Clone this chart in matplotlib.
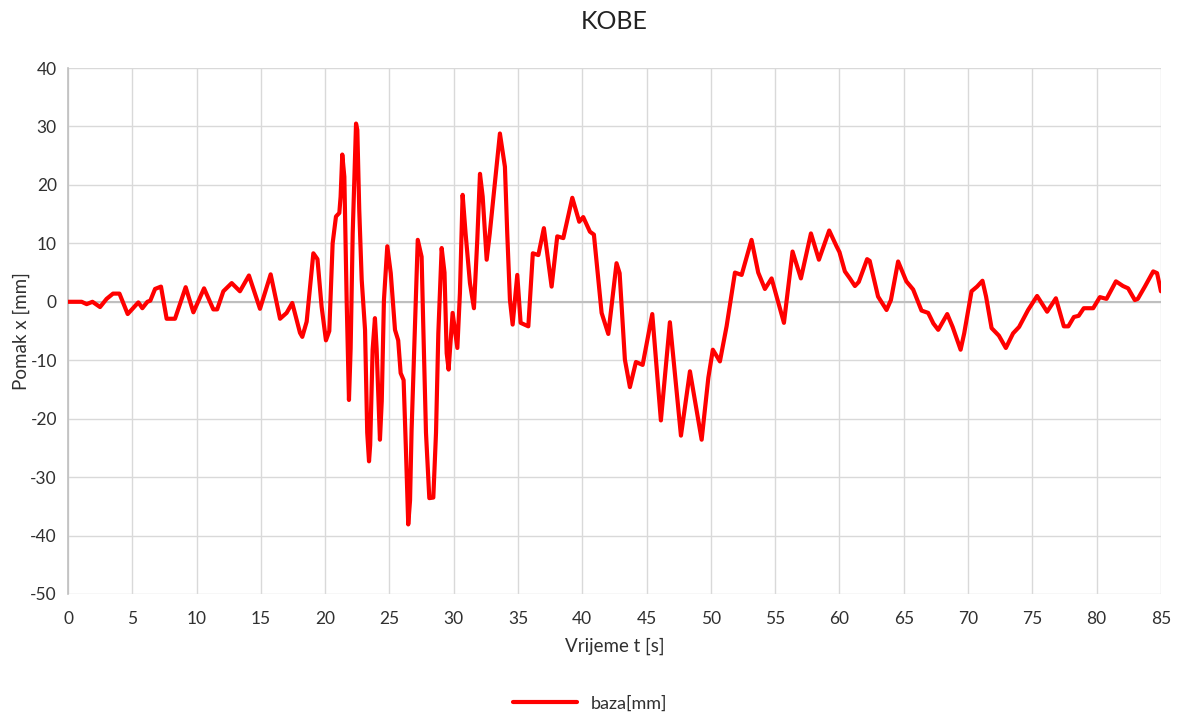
import matplotlib.pyplot as plt

# values
t = [0, 1.06, 1.45, 1.9, 2.49, 3.0, 3.5, 4.0, 4.64, 5.47, 5.78, 6.17, 6.4, 6.77, 7.23, 7.67,
     8.32, 9.15, 9.75, 10.58, 11.3, 11.6, 12.08, 12.73, 13.37, 14.07, 14.93, 15.76, 16.49,
     17.0, 17.44, 18.04, 18.22, 18.56, 19.08, 19.4, 19.72, 20.06, 20.32, 20.58, 20.84, 21.1,
     21.2, 21.33, 21.49, 21.67, 21.85, 21.98, 22.14, 22.4, 22.5, 22.65, 22.84, 23.1, 23.27,
     23.41, 23.5, 23.69, 23.87, 24.0, 24.26, 24.4, 24.57, 24.83, 25.1, 25.43, 25.68, 25.87,
     26.1, 26.28, 26.46, 26.6, 26.72, 26.98, 27.2, 27.5, 27.63, 27.84, 28.1, 28.41, 28.62,
     28.8, 29.06, 29.28, 29.45, 29.6, 29.91, 30.1, 30.28, 30.48, 30.69, 30.92, 31.26, 31.57,
     31.83, 32.04, 32.25, 32.56, 32.8, 33.2, 33.59, 33.98, 34.16, 34.37, 34.58, 34.94, 35.2,
     35.8, 36.15, 36.58, 37.01, 37.61, 38.05, 38.52, 39.22, 39.76, 40.07, 40.59, 40.9, 41.5,
     42.02, 42.66, 42.9, 43.31, 43.7, 44.17, 44.69, 45.44, 46.11, 46.81, 47.67, 48.37, 49.28,
     49.8, 50.15, 50.7, 51.22, 51.87, 52.39, 53.16, 53.68, 54.2, 54.72, 55.1, 55.68, 56.35,
     57.0, 57.78, 58.4, 59.2, 59.77, 60.0, 60.42, 60.81, 61.2, 61.5, 62.15, 62.35, 63.0,
     63.66, 64.0, 64.56, 65.2, 65.73, 66.38, 66.9, 67.3, 67.68, 68.38, 68.8, 69.42, 69.7,
     70.27, 70.7, 71.12, 71.4, 71.83, 72.4, 72.94, 73.5, 73.97, 74.67, 75.37, 76.15, 76.83,
     77.45, 77.8, 78.23, 78.6, 79.0, 79.73, 80.25, 80.77, 81.5, 82.05, 82.45, 82.97, 83.2,
     83.75, 84.4, 84.7, 85.0]
baza = [0, 0, -0.4, 0, -0.9, 0.5, 1.4, 1.4, -2.1, -0.1, -1.1, 0, 0.2, 2.2, 2.6, -2.9,
        -2.9, 2.5, -1.8, 2.3, -1.3, -1.3, 1.8, 3.2, 1.8, 4.5, -1.2, 4.7, -2.9,
        -1.9, -0.2, -5.3, -6.0, -3.4, 8.3, 7.3, -0.8, -6.6, -5.0, 10.0, 14.6, 15.2,
        18.0, 25.2, 21.4, 0.3, -16.8, -8.0, 11.7, 30.5, 29.4, 15.7, 3.8, -4.8, -22.4,
        -27.3, -24.5, -8.2, -2.8, -8.0, -23.6, -17.0, 0.3, 9.5, 4.9, -4.8, -6.6, -12.2,
        -13.4, -25.3, -38.1, -34.0, -22.0, -4.2, 10.6, 7.7, -4.2, -22.4, -33.6, -33.5, -22.4,
        -5.4, 9.2, 5.0, -8.8, -11.6, -1.9, -5.0, -7.9, 1.5, 18.3, 11.7, 3.2, -1.1,
        10.6, 21.9, 18.0, 7.2, 11.7, 20.3, 28.8, 23.1, 11.7, 0.3, -3.9, 4.6, -3.6,
        -4.2, 8.3, 8.0, 12.6, 2.6, 11.2, 10.9, 17.8, 13.7, 14.5, 12.0, 11.5, -1.9,
        -5.5, 6.6, 4.9, -9.9, -14.6, -10.3, -10.8, -2.1, -20.3, -3.5, -22.9, -11.9, -23.6,
        -13.0, -8.2, -10.2, -4.2, 5.0, 4.6, 10.6, 5.0, 2.2, 4.0, 1.0, -3.6, 8.6,
        4.0, 11.7, 7.2, 12.2, 9.5, 8.5, 5.2, 4.0, 2.7, 3.4, 7.3, 7.0, 0.9,
        -1.4, 0.3, 6.9, 3.5, 2.1, -1.5, -1.9, -3.7, -4.8, -2.1, -4.3, -8.2, -5.4,
        1.8, 2.6, 3.6, 0.9, -4.5, -5.8, -7.9, -5.4, -4.3, -1.4, 1.0, -1.7, 0.6,
        -4.2, -4.2, -2.6, -2.4, -1.1, -1.1, 0.8, 0.5, 3.5, 2.7, 2.3, 0.3, 0.5,
        2.6, 5.2, 4.9, 1.8]

x_ticks = list(range(0, 90, 5))
y_ticks = list(range(-50, 50, 10))

plt.rcParams['font.family'] = ['Lato', 'DejaVu Sans']
plt.rcParams['axes.unicode_minus'] = False

fig = plt.figure(figsize=(11.81, 7.24), dpi=100)
ax = fig.add_axes([0.0576, 0.1796, 0.9254, 0.7264])

ax.plot(t, baza, color='#ff0000', lw=3, solid_joinstyle='round', solid_capstyle='round',
        label='baza[mm]', zorder=3)

ax.set_xlim(0, 85)
ax.set_ylim(-50, 40)
ax.set_xticks(x_ticks)
ax.set_yticks(y_ticks)
ax.grid(True, color='#d9d9d9', lw=1)
ax.axhline(0, color='#bfbfbf', lw=1.5, zorder=2)
for s in ['top', 'right', 'bottom']:
    ax.spines[s].set_visible(False)
ax.spines['left'].set_color('#bfbfbf')
ax.spines['left'].set_linewidth(1.2)
ax.tick_params(length=0, labelsize=12.5, colors='#303030', pad=8)
ax.tick_params(axis='x', pad=12)

ax.set_title('KOBE', fontsize=18, color='#222222', pad=28)
ax.set_xlabel('Vrijeme t [s]', fontsize=13.5, color='#303030', labelpad=8)
ax.set_ylabel('Pomak x [mm]', fontsize=13.5, color='#303030', labelpad=0)

fig.legend(loc='lower center', bbox_to_anchor=(0.5, -0.005), frameon=False, fontsize=13,
           handlelength=3.5, labelcolor='#303030')

fig.savefig('out.png', dpi=100)
